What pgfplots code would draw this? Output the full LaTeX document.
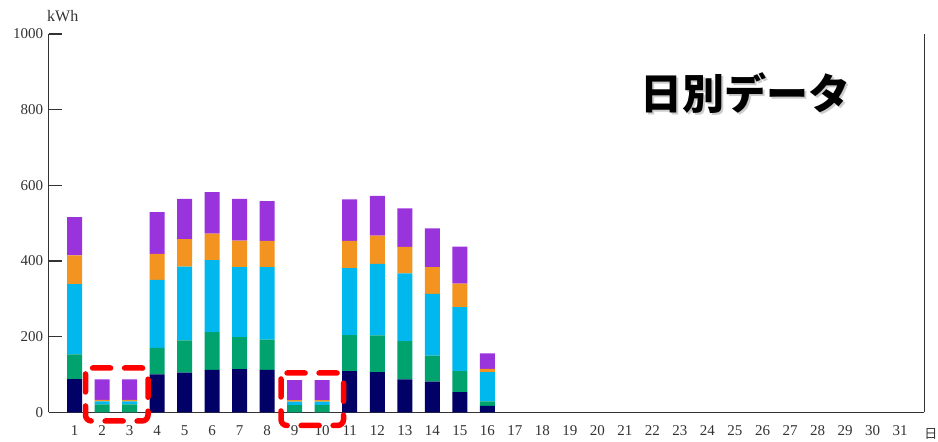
\documentclass[border=0pt]{standalone}
\usepackage{pgfplots}
\pgfplotsset{compat=1.18}
\usepackage{fontspec}
\setmainfont{Liberation Serif}
\newfontfamily\cjk{Noto Sans CJK JP}
\definecolor{cNavy}{HTML}{000066}
\definecolor{cGreen}{HTML}{00A26E}
\definecolor{cCyan}{HTML}{00B8EE}
\definecolor{cOrange}{HTML}{F39421}
\definecolor{cPurple}{HTML}{9933DB}
\definecolor{axgray}{HTML}{333333}
\begin{document}
\begin{tikzpicture}[x=1bp,y=1bp]
\path[use as bounding box] (0,0) rectangle (938,442);
\begin{axis}[
  at={(48.7bp,29.7bp)}, anchor=south west,
  scale only axis, width=875.6bp, height=378.3bp,
  xmin=0.06, xmax=31.88, ymin=0, ymax=1000,
  ybar stacked, bar width=15bp,
  axis lines=left, axis line style={-, axgray, line width=1.3bp},
  xtick={1,...,31}, xtick style={draw=none},
  ytick={0,200,...,1000}, tick align=inside, major tick length=13bp,
  ytick style={axgray, line width=1.3bp},
  /pgf/number format/assume math mode=true,
  /pgf/number format/1000 sep={},
  ticklabel style={font=\fontsize{15bp}{15bp}\selectfont, text=axgray},
  xticklabel style={yshift=-10bp},
  yticklabel style={xshift=-2bp},
  clip=false,
]
\addplot[fill=cNavy, draw=none] coordinates {(1,88) (2,0) (3,0) (4,100) (5,105) (6,112) (7,114) (8,112) (9,0) (10,0) (11,109) (12,106) (13,87) (14,81) (15,53) (16,17)};
\addplot[fill=cGreen, draw=none] coordinates {(1,65) (2,21) (3,21) (4,70) (5,85) (6,100) (7,85) (8,80) (9,19) (10,19) (11,95) (12,97) (13,101) (14,69) (15,56) (16,12)};
\addplot[fill=cCyan, draw=none] coordinates {(1,186) (2,8) (3,8) (4,180) (5,195) (6,190) (7,185) (8,192) (9,9) (10,9) (11,177) (12,189) (13,179) (14,163) (15,169) (16,77)};
\addplot[fill=cOrange, draw=none] coordinates {(1,76) (2,4) (3,4) (4,69) (5,73) (6,70) (7,70) (8,69) (9,4) (10,4) (11,72) (12,75) (13,70) (14,71) (15,62) (16,9)};
\addplot[fill=cPurple, draw=none] coordinates {(1,101) (2,54) (3,54) (4,110) (5,106) (6,110) (7,110) (8,105) (9,53) (10,53) (11,110) (12,105) (13,102) (14,102) (15,98) (16,41)};
\draw[axgray, line width=1.3bp] (rel axis cs:1,0) -- (rel axis cs:1,1);
\end{axis}
\node[anchor=base west, font=\fontsize{16bp}{16bp}\selectfont, text=axgray, inner sep=0] at (47,420) {kWh};
\node[anchor=east, font=\cjk\fontsize{13bp}{13bp}\selectfont, text=axgray, inner sep=0] at (937.5,8) {日};
\node[font=\cjk\bfseries\fontsize{42bp}{42bp}\selectfont, text=black!20, inner sep=0] at (747,347) {日別データ};
\node[font=\cjk\bfseries\fontsize{42bp}{42bp}\selectfont, text=black, inner sep=0] at (745,349) {日別データ};
\begin{scope}[red, line width=5.5bp, dash pattern=on 18bp off 14bp, line cap=round, rounded corners=6bp]
\draw (85.5,74) rectangle (148,21);
\draw (281,69) rectangle (343.5,16.5);
\end{scope}
\end{tikzpicture}
\end{document}
